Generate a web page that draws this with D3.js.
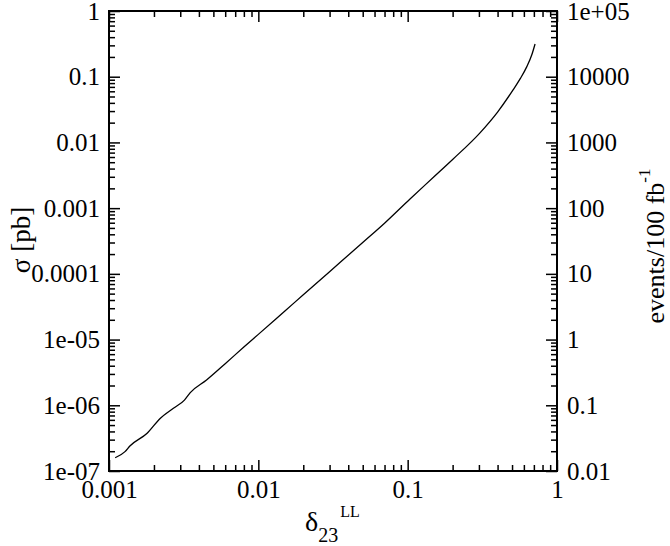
<!DOCTYPE html>
<html><head><meta charset="utf-8">
<script src="https://cdn.jsdelivr.net/npm/d3@7"></script>
<style>body{margin:0;background:#fff}svg{display:block}</style>
</head><body><svg id="c" width="670" height="546" font-family="Liberation Serif"></svg>
<script>
const delta = [0.0011,0.00128,0.00138,0.0018,0.0022,0.0027,0.0032,0.0035,0.0045,0.006,0.008,0.01,0.015,0.02,0.03,0.05,0.07,0.1037,0.15,0.2,0.305,0.4,0.508,0.57,0.628,0.68,0.713];
const sigma = [1.59e-7,1.97e-7,2.4e-7,3.75e-7,6.3e-7,9.0e-7,1.2e-6,1.56e-6,2.43e-6,4.3e-6,7.7e-6,1.2e-5,2.7e-5,4.8e-5,1.08e-4,3.0e-4,5.9e-4,1.38e-3,3.0e-3,5.5e-3,0.014,0.029,0.063,0.095,0.1425,0.22,0.315];
const xTicks = [0.001,0.01,0.1,1];
const xTickLabels = ["0.001","0.01","0.1","1"];
const yTicks = [1e-7,1e-6,1e-5,1e-4,1e-3,1e-2,1e-1,1];
const yTickLabels = ["1e-07","1e-06","1e-05","0.0001","0.001","0.01","0.1","1"];
const y2Ticks = [0.01,0.1,1,10,100,1000,10000,100000];
const y2TickLabels = ["0.01","0.1","1","10","100","1000","10000","1e+05"];

const L=109,R=557,T=11,B=471;
const FONT="Liberation Serif";
const svg=d3.select("#c");
const x=d3.scaleLog().domain([0.001,1]).range([L,R]);
const y=d3.scaleLog().domain([1e-7,1]).range([B,T]);
const y2=d3.scaleLog().domain([0.01,1e5]).range([B,T]);

function minors(dom){const out=[];for(let e=Math.round(Math.log10(dom[0]));e<Math.round(Math.log10(dom[1]));e++){for(let k=2;k<=9;k++)out.push(k*Math.pow(10,e));}return out;}
const MAJ=11, MIN=6, FS=25;

function drawAxis(axisFn, scale, majors, labels, tr, pad, showLabels){
  const gMin=svg.append("g").attr("transform",tr).call(axisFn(scale).tickValues(minors(scale.domain())).tickSizeInner(-MIN).tickSizeOuter(0).tickFormat(""));
  const gMaj=svg.append("g").attr("transform",tr).call(axisFn(scale).tickValues(majors).tickSizeInner(-MAJ).tickSizeOuter(0).tickPadding(pad)
    .tickFormat((d,i)=>showLabels?labels[i]:""));
  [gMin,gMaj].forEach(g=>{g.attr("font-family",FONT).attr("font-size",FS);g.select(".domain").remove();g.selectAll("line").attr("stroke","#000").attr("stroke-width",1.5);});
  gMaj.selectAll("text").attr("fill","#000").attr("font-family",FONT).attr("font-size",FS);
  return gMaj;
}
drawAxis(d3.axisBottom,x,xTicks,xTickLabels,`translate(0,${B})`,9,true);
drawAxis(d3.axisTop,x,xTicks,xTickLabels,`translate(0,${T})`,10,false);
drawAxis(d3.axisLeft,y,yTicks,yTickLabels,`translate(${L},0)`,9,true);
drawAxis(d3.axisRight,y2,y2Ticks,y2TickLabels,`translate(${R},0)`,10,true);

svg.append("rect").attr("x",L).attr("y",T).attr("width",R-L).attr("height",B-T).attr("fill","none").attr("stroke","#000").attr("stroke-width",2);

const pts=delta.map((d,i)=>[d,sigma[i]]);
svg.append("path").datum(pts).attr("fill","none").attr("stroke","#000").attr("stroke-width",1.3)
  .attr("d",d3.line().curve(d3.curveMonotoneX).x(d=>x(d[0])).y(d=>y(d[1])));

// x title
const xt=svg.append("text").attr("x",305).attr("y",531).attr("font-size",28).attr("font-family",FONT);
xt.append("tspan").text("δ");
xt.append("tspan").attr("font-size",20).attr("dy",11).text("23");
xt.append("tspan").attr("font-size",16).attr("dx",2).attr("dy",-25).text("LL");

// left title
svg.append("text").attr("transform","translate(30,240) rotate(-90)").attr("text-anchor","middle").attr("font-size",27).attr("font-family",FONT).text("σ [pb]");
// right title
const rt=svg.append("text").attr("transform","translate(664,246) rotate(-90)").attr("text-anchor","middle").attr("font-size",26).attr("font-family",FONT);
rt.append("tspan").text("events/100 fb");
rt.append("tspan").attr("font-size",17).attr("dy",-14).text("-1");
</script></body></html>
